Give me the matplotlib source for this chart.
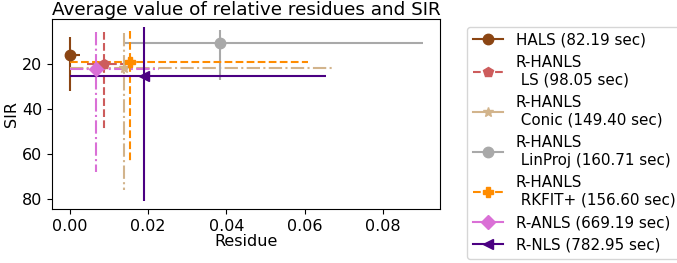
import matplotlib
matplotlib.use("Agg")
import matplotlib.pyplot as plt
from matplotlib.lines import Line2D
import numpy as np

labels = ["HALS (82.19 sec)", "R-HANLS\n LS (98.05 sec)", "R-HANLS\n Conic (149.40 sec)",
          "R-HANLS\n LinProj (160.71 sec)", "R-HANLS\n RKFIT+ (156.60 sec)",
          "R-ANLS (669.19 sec)", "R-NLS (782.95 sec)"]
res_mean = [0.0002, 0.0087, 0.0139, 0.0383, 0.0153, 0.0068, 0.0189]
res_min = [0.0, 0.0045, 0.0, 0.0142, 0.0, 0.0, 0.0]
res_max = [0.0027, 0.0135, 0.0671, 0.0902, 0.0607, 0.0228, 0.0654]
sir_mean = [16.0, 20.0, 21.9, 10.8, 19.3, 22.5, 25.5]
sir_min = [8.1, 5.9, 6.4, 5.2, 5.7, 5.9, 3.7]
sir_max = [32.3, 50.0, 76.2, 27.1, 64.1, 68.1, 80.8]

colors = ["saddlebrown", "indianred", "tan", "darkgray", "darkorange", "orchid", "indigo"]
markers = ["o", "p", "*", "o", "P", "D", "<"]
err_styles = ["-", "--", "-.", "-", "--", "-.", "-"]
leg_styles = ["-", "--", "-", "-", "--", "-", "-"]

fs = 11.5
fig = plt.figure(figsize=(6.77, 2.63), dpi=100)
ax = fig.add_axes([0.0768, 0.205, 0.5732, 0.7216])

handles = []
for i in range(len(labels)):
    x = res_mean[i]; y = sir_mean[i]
    xerr = [[x - res_min[i]], [res_max[i] - x]]
    yerr = [[y - sir_min[i]], [sir_max[i] - y]]
    eb = ax.errorbar([x], [y], xerr=xerr, yerr=yerr, fmt=markers[i], color=colors[i],
                     ecolor=colors[i], elinewidth=1.5, markersize=7.5)
    for lc in eb[2]:
        lc.set_linestyle(err_styles[i])
    handles.append(Line2D([], [], color=colors[i], marker=markers[i], linestyle=leg_styles[i],
                          linewidth=1.5, markersize=7.5))

ax.set_xlim(-0.0045, 0.0945)
ax.set_ylim(84.5, 0.3)
ax.set_yticks([20, 40, 60, 80])
ax.set_xticks([0.0, 0.02, 0.04, 0.06, 0.08])
ax.tick_params(labelsize=fs)
ax.set_xlabel("Residue", fontsize=fs, labelpad=0)
ax.set_ylabel("SIR", fontsize=fs, labelpad=2)
ax.set_title("Average value of relative residues and SIR", fontsize=13.2, pad=2)

ax.legend(handles, labels, loc="upper left", bbox_to_anchor=(0.690, 0.8985),
          bbox_transform=fig.transFigure, borderaxespad=0, fontsize=10.9,
          handlelength=2.0, labelspacing=0.5, borderpad=0.4)

fig.savefig("out.png", dpi=100)
